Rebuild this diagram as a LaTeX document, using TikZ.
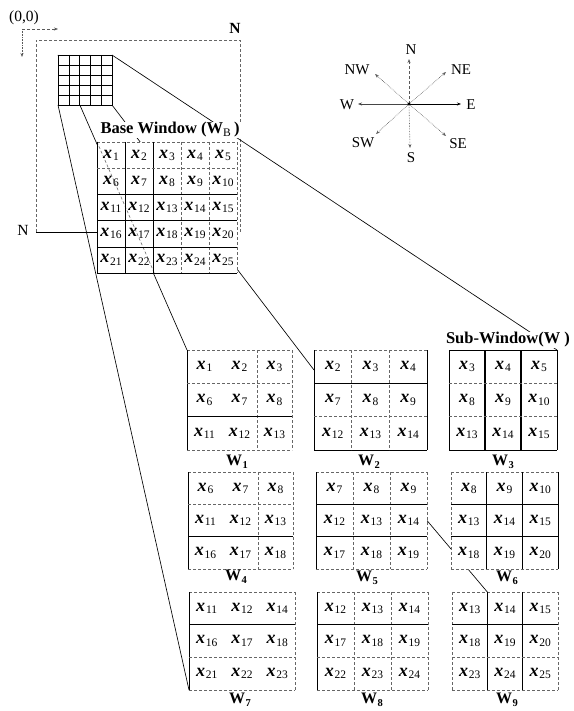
\documentclass[tikz,border=0pt]{standalone}
\usepackage{fontspec}
\setmainfont{Liberation Serif}
\usetikzlibrary{calc,arrows.meta,backgrounds}
\newcommand\xv[1]{{\fontsize{18}{18}\selectfont\bfseries\itshape x}\kern0.8pt\raisebox{-0.5ex}{\fontsize{11.5}{11.5}\selectfont #1}}
\newcommand\capw[1]{W\kern0.3pt\raisebox{-0.45ex}{\fontsize{10.5}{10.5}\selectfont #1}}
\newcommand\mkwin[6]{%
  \node[win, minimum width=#4pt, minimum height=#5pt] (#1) at (#2,#3) {};
  \foreach \lab [count=\ii from 0] in {#6} {%
    \pgfmathtruncatemacro\rowi{floor(\ii/3)}%
    \pgfmathtruncatemacro\coli{mod(\ii,3)}%
    \node[cell] at ($(#1.north west)+({(\coli+0.5)*#4/3},{(\rowi+0.5)*#5/3})$) {\xv{\lab}};
  }%
}
% inner lines: name, v1, v2, h1, h2
\newcommand\wlines[5]{%
  \draw[#2] ($(#1.north west)!0.3333!(#1.north east)$) -- ($(#1.south west)!0.3333!(#1.south east)$);
  \draw[#3] ($(#1.north west)!0.6667!(#1.north east)$) -- ($(#1.south west)!0.6667!(#1.south east)$);
  \draw[#4] ($(#1.north west)!0.3333!(#1.south west)$) -- ($(#1.north east)!0.3333!(#1.south east)$);
  \draw[#5] ($(#1.north west)!0.6667!(#1.south west)$) -- ($(#1.north east)!0.6667!(#1.south east)$);
}
% outline: name, top, right, bottom, left
\newcommand\wout[5]{%
  \draw[#2] (#1.north west) -- (#1.north east);
  \draw[#3] (#1.north east) -- (#1.south east);
  \draw[#4] (#1.south west) -- (#1.south east);
  \draw[#5] (#1.north west) -- (#1.south west);
}
\begin{document}
\begin{tikzpicture}[x=1pt,y=-1pt,
  ln/.style={line width=0.6pt, black},
  fd/.style={line width=0.55pt, gray!80!black, densely dashed},
  tk/.style={line width=1.1pt, black},
  conn/.style={line width=0.65pt, black},
  atip/.style={-{Stealth[length=4pt,width=3pt]}},
  win/.style={inner sep=0pt, outer sep=0pt, fill=white, anchor=north west},
  cell/.style={inner sep=0pt},
  lbl/.style={font=\fontsize{16.5}{18}\selectfont\bfseries, fill=white, inner sep=1pt},
  wcap/.style={font=\fontsize{16}{18}\selectfont\bfseries, inner sep=0pt},
  cmp/.style={font=\fontsize{15}{17}\selectfont, inner sep=0pt},
  txt/.style={font=\fontsize{15.5}{17}\selectfont, inner sep=0pt}]
\useasboundingbox (0,0) rectangle (573,711);

% origin axes
\node[txt] (orig) at (24,18) {(0,0)};
\coordinate (o) at (22,29);
\coordinate (ox) at (58,29);
\coordinate (oy) at (22,57);
\draw[atip, densely dashed, gray!70!black, line width=0.5pt] (o) -- (ox);
\draw[atip, densely dotted, gray!70!black, line width=0.6pt] (o) -- (oy);

% image frame
\coordinate (r1) at (36,40);
\coordinate (r2) at (240,40);
\coordinate (r3) at (240,232);
\coordinate (r4) at (36,232);
\node[txt, font=\fontsize{15.5}{17}\selectfont\bfseries] (nT) at (235,28) {N};
\node[txt] (nL) at (23,230) {N};

% small grid
\node[win, minimum width=54pt, minimum height=50pt] (sg) at (58,55) {};
\draw[ln] (sg.north west) rectangle (sg.south east);
\foreach \f in {0.2,0.4,0.6,0.8} {
  \draw[ln] ($(sg.north west)!\f!(sg.north east)$) -- ($(sg.south west)!\f!(sg.south east)$);
  \draw[ln] ($(sg.north west)!\f!(sg.south west)$) -- ($(sg.north east)!\f!(sg.south east)$);
}

% base window
\node[lbl] (bwl) at (170,130) {Base Window (W\textsubscript{\mdseries B}\,)};
\node[win, minimum width=140pt, minimum height=131pt] (bw) at (97,142) {};
\begin{scope}
  \clip (bw.north west) rectangle (bw.south east);
  \draw[fd] (sg.north west) -- (97,142) -- (188,350);
\end{scope}
\wout{bw}{fd}{fd}{ln}{ln}
\foreach \f in {0.2,0.4} \draw[ln] ($(bw.north west)!\f!(bw.north east)$) -- ($(bw.south west)!\f!(bw.south east)$);
\foreach \f in {0.6,0.8} \draw[fd] ($(bw.north west)!\f!(bw.north east)$) -- ($(bw.south west)!\f!(bw.south east)$);
\draw[fd] ($(bw.north west)!0.2!(bw.south west)$) -- ($(bw.north east)!0.2!(bw.south east)$);
\foreach \f in {0.4,0.6,0.8} \draw[ln] ($(bw.north west)!\f!(bw.south west)$) -- ($(bw.north east)!\f!(bw.south east)$);
\foreach \n in {1,...,25} {
  \pgfmathtruncatemacro\rowi{floor((\n-1)/5)}
  \pgfmathtruncatemacro\coli{mod(\n-1,5)}
  \node[cell] at ($(bw.north west)+({(\coli+0.5)*28},{(\rowi+0.5)*26.2})$) {\xv{\n}};
}

% compass
\coordinate (cc) at (409,104);
\coordinate (tN) at (409,59);
\coordinate (tS) at (410,148);
\coordinate (tE) at (461,104);
\coordinate (tW) at (358,104);
\coordinate (tNE) at (446,72);
\coordinate (tNW) at (375,74);
\coordinate (tSW) at (376,134);
\coordinate (tSE) at (446,136);
\node[cmp] (lN) at (411,50) {N};
\node[cmp] (lS) at (411,158) {S};
\node[cmp] (lE) at (471,105) {E};
\node[cmp] (lW) at (347,105) {W};
\node[cmp] (lNE) at (461,70) {NE};
\node[cmp] (lNW) at (357,70) {NW};
\node[cmp] (lSW) at (363,143) {SW};
\node[cmp] (lSE) at (458,144) {SE};
\draw[atip, line width=0.7pt] (cc) -- (tE);
\draw[atip, line width=0.6pt, gray!55!black] (cc) -- (tW);
\draw[atip, densely dashed, gray!70!black, line width=0.6pt] (cc) -- (tN);
\draw[atip, densely dotted, gray!70!black, line width=0.6pt] (cc) -- (tS);
\foreach \t in {tNE,tNW,tSW,tSE} \draw[atip, densely dotted, gray!70!black, line width=0.6pt] (cc) -- (\t);
\fill (cc) circle (1.6pt);

% sub-windows
\node[lbl] (swl) at (508,340) {Sub-Window(W\ )};
\mkwin{w1}{187}{350}{105}{100}{1,2,3,6,7,8,11,12,13}
\mkwin{w2}{314}{350}{113}{100}{2,3,4,7,8,9,12,13,14}
\mkwin{w3}{449}{350}{108}{100}{3,4,5,8,9,10,13,14,15}
\mkwin{w4}{188}{472}{105}{97}{6,7,8,11,12,13,16,17,18}
\mkwin{w5}{316}{472}{111}{97}{7,8,9,12,13,14,17,18,19}
\mkwin{w6}{451}{472}{107}{97}{8,9,10,13,14,15,18,19,20}
\mkwin{w7}{189}{592}{106}{98}{11,12,14,16,17,18,21,22,23}
\mkwin{w8}{317}{592}{111}{98}{12,13,14,17,18,19,22,23,24}
\mkwin{w9}{452}{592}{106}{98}{13,14,15,18,19,20,23,24,25}

\wout{w1}{fd}{fd}{fd}{ln}  \wlines{w1}{draw=none}{fd}{fd}{ln}
\wout{w2}{fd}{ln}{ln}{ln}  \wlines{w2}{fd}{fd}{ln}{fd}
\wout{w3}{ln}{ln}{ln}{ln}  \wlines{w3}{tk}{tk}{fd}{fd}
\wout{w4}{fd}{fd}{fd}{ln}  \wlines{w4}{draw=none}{fd}{fd}{ln}
\wout{w5}{fd}{fd}{fd}{ln}  \wlines{w5}{fd}{fd}{ln}{ln}
\wout{w6}{fd}{ln}{fd}{fd}  \wlines{w6}{tk}{tk}{ln}{ln}
\wout{w7}{fd}{fd}{fd}{ln}  \wlines{w7}{draw=none}{draw=none}{ln}{fd}
\wout{w8}{fd}{fd}{fd}{ln}  \wlines{w8}{fd}{fd}{ln}{fd}
\wout{w9}{fd}{fd}{fd}{fd}  \wlines{w9}{tk}{tk}{ln}{fd}

\node[wcap] (c1) at (237,462) {\capw{1}};
\node[wcap] (c2) at (369,462) {\capw{2}};
\node[wcap] (c3) at (503,462) {\capw{3}};
\node[wcap] (c4) at (236,577) {\capw{4}};
\node[wcap] (c5) at (367,578) {\capw{5}};
\node[wcap] (c6) at (507,578) {\capw{6}};
\node[wcap] (c7) at (240,700) {\capw{7}};
\node[wcap] (c8) at (372,700) {\capw{8}};
\node[wcap] (c9) at (507,700) {\capw{9}};

\coordinate (w2p) at ($(w2.north west)!0.2!(w2.south west)$);
\coordinate (w9t) at ($(w9.north west)!0.3333!(w9.north east)$);

% connectors (behind windows and labels)
\begin{pgfonlayer}{background}
  \draw[fd] (r4) -- (r1) -- (r2) -- (r3);
  \draw[ln] (r4) -- (r4 -| bw.west);
  \draw[conn] (sg.north west) -- (w1.north west);
  \draw[conn] (sg.south west) -- (w7.south west);
  \draw[conn] (sg.north east) -- (w3.north east);
  \draw[conn] (sg.south east) -- (w2p);
  \draw[conn] (w5.east) -- (w9t);
\end{pgfonlayer}
\end{tikzpicture}
\end{document}
